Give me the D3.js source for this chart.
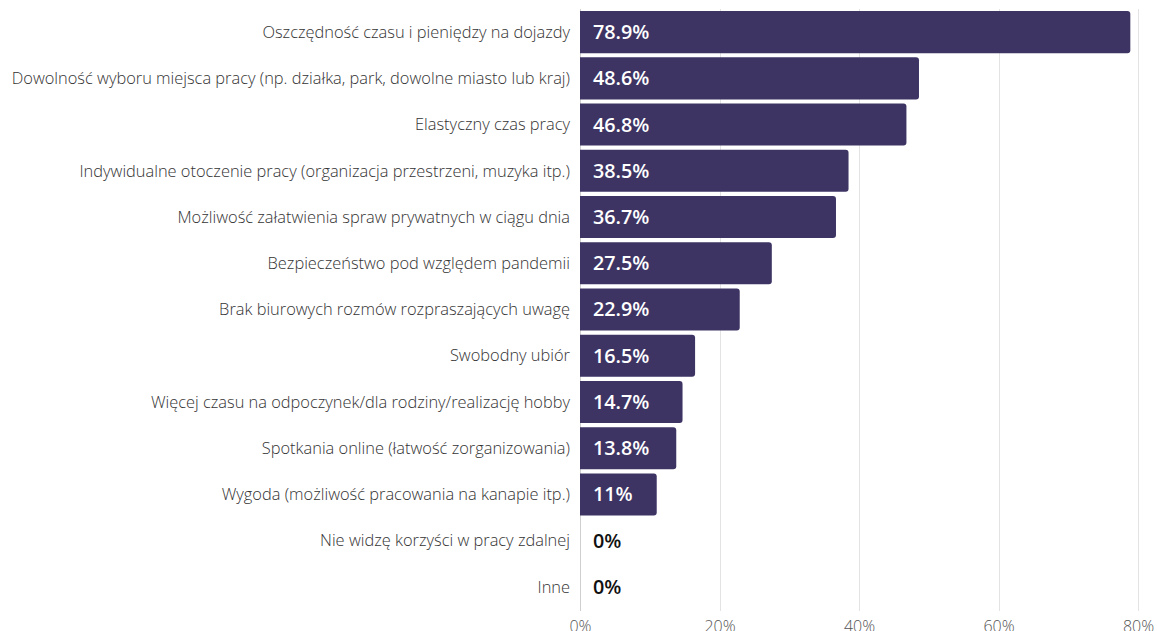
<!DOCTYPE html>
<html><head><meta charset="utf-8">
<script src="https://cdn.jsdelivr.net/npm/d3@7"></script>
<style>body{margin:0;background:#fff;overflow:hidden}</style>
</head><body>
<svg id="c" width="1157" height="631"></svg>
<script>
const categories = [
 "Oszczędność czasu i pieniędzy na dojazdy",
 "Dowolność wyboru miejsca pracy (np. działka, park, dowolne miasto lub kraj)",
 "Elastyczny czas pracy",
 "Indywidualne otoczenie pracy (organizacja przestrzeni, muzyka itp.)",
 "Możliwość załatwienia spraw prywatnych w ciągu dnia",
 "Bezpieczeństwo pod względem pandemii",
 "Brak biurowych rozmów rozpraszających uwagę",
 "Swobodny ubiór",
 "Więcej czasu na odpoczynek/dla rodziny/realizację hobby",
 "Spotkania online (łatwość zorganizowania)",
 "Wygoda (możliwość pracowania na kanapie itp.)",
 "Nie widzę korzyści w pracy zdalnej",
 "Inne"
];
const values = [78.9, 48.6, 46.8, 38.5, 36.7, 27.5, 22.9, 16.5, 14.7, 13.8, 11, 0, 0];
const valueLabels = ["78.9%","48.6%","46.8%","38.5%","36.7%","27.5%","22.9%","16.5%","14.7%","13.8%","11%","0%","0%"];
const ticks = [0, 20, 40, 60, 80];

const svg = d3.select("#c");
const font = "'Open Sans', sans-serif";
const x = d3.scaleLinear().domain([0, 80]).range([580, 1138]);
const y = d3.scaleBand().domain(categories).range([9, 610]).paddingInner(0.09).paddingOuter(0.045);

// grid
svg.append("g").selectAll("line").data(ticks).join("line")
  .attr("x1", d => Math.round(x(d)) + 0.5).attr("x2", d => Math.round(x(d)) + 0.5)
  .attr("y1", 9).attr("y2", 611)
  .attr("stroke", d => d === 0 ? "#cfcfcf" : "#e3e3e3").attr("stroke-width", 1);

// axis labels
const xAxis = d3.axisBottom(x).tickValues(ticks).tickFormat(d => d + "%").tickSize(0).tickPadding(0);
const ax = svg.append("g").attr("transform", "translate(0,618)").call(xAxis);
ax.select(".domain").remove();
ax.selectAll("text").attr("font-family", font).attr("font-size", 16).attr("fill", "#555").attr("font-weight", 300).attr("dy", "0.85em");

// bars with right rounded corners
const r = 3;
svg.append("g").selectAll("path").data(values.map((v, i) => ({v, c: categories[i]})).filter(d => d.v > 0)).join("path")
  .attr("fill", "#3d3464")
  .attr("d", d => {
    const x0 = x(0), x1 = x(d.v), y0 = y(d.c), h = y.bandwidth();
    return `M${x0},${y0}H${x1 - r}Q${x1},${y0} ${x1},${y0 + r}V${y0 + h - r}Q${x1},${y0 + h} ${x1 - r},${y0 + h}H${x0}Z`;
  });

// value labels
svg.append("g").selectAll("text").data(values.map((v, i) => ({v, c: categories[i], l: valueLabels[i]}))).join("text")
  .attr("x", x(0) + 13).attr("y", d => y(d.c) + y.bandwidth() / 2).attr("dy", "0.35em")
  .attr("font-family", font).attr("font-size", 19.8).attr("font-weight", 600)
  .attr("fill", d => d.v > 0 ? "#fff" : "#111").text(d => d.l);

// category labels
svg.append("g").selectAll("text").data(categories).join("text")
  .attr("x", 570).attr("y", d => y(d) + y.bandwidth() / 2).attr("dy", "0.35em")
  .attr("text-anchor", "end").attr("font-family", font).attr("font-size", 16.4).attr("font-weight", 300)
  .attr("fill", "#333").text(d => d);
</script>
</body></html>
